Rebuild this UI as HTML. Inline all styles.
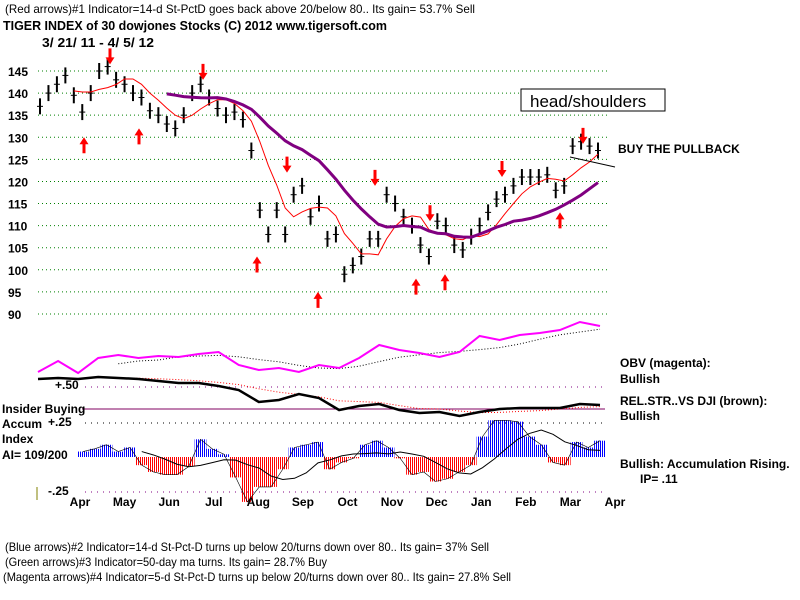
<!DOCTYPE html>
<html><head><meta charset="utf-8"><style>
body{margin:0;background:#fff;}
svg{display:block;font-family:"Liberation Sans",sans-serif;}
.t{font-size:12px;font-weight:bold;fill:#000;}
.n{font-size:12px;fill:#000;}
</style></head><body>
<svg id="c" width="800" height="600" viewBox="0 0 800 600">
<defs><pattern id="blueStr" width="2" height="4" patternUnits="userSpaceOnUse"><rect width="1" height="4" fill="#0000ff"/></pattern>
<pattern id="redStr" width="2" height="4" patternUnits="userSpaceOnUse"><rect width="1" height="4" fill="#ff0000"/></pattern></defs>
<text x="5" y="13" class="n" textLength="470" lengthAdjust="spacingAndGlyphs">(Red arrows)#1 Indicator=14-d St-PctD goes back above 20/below 80.. Its gain= 53.7% Sell</text>
<text x="3" y="30" class="t" style="font-size:13px" textLength="384" lengthAdjust="spacingAndGlyphs">TIGER INDEX of  30 dowjones Stocks  (C) 2012  www.tigersoft.com</text>
<text x="42" y="47" class="t" style="font-size:13px" textLength="112" lengthAdjust="spacingAndGlyphs">3/ 21/ 11 -  4/ 5/ 12</text>
<g id="grid"></g>
<g id="ylab"></g>
<g id="bars"></g>
<g id="mas"></g>
<g id="arrows"></g>
<line x1="570" y1="157" x2="615" y2="167" stroke="#000"/>
<rect x="521" y="89" width="144" height="22" fill="#fff" stroke="#000"/>
<text x="530" y="107" style="font-size:17px">head/shoulders</text>
<text x="618" y="153" class="t">BUY THE PULLBACK</text>
<g id="ind"></g>
<text x="55" y="389" class="t">+.50</text>
<text x="2" y="413" class="t">Insider Buying</text>
<text x="48" y="426" class="t">+.25</text>
<text x="2" y="428" class="t">Accum</text>
<text x="2" y="443" class="t">Index</text>
<text x="2" y="459" class="t">AI= 109/200</text>
<text x="48" y="495" class="t">-.25</text>
<line x1="37" y1="487" x2="37" y2="500" stroke="#808000"/>
<text x="620" y="367" class="t">OBV (magenta):</text>
<text x="620" y="383" class="t">Bullish</text>
<text x="620" y="405" class="t">REL.STR..VS DJI (brown):</text>
<text x="620" y="420" class="t">Bullish</text>
<text x="620" y="468" class="t">Bullish: Accumulation Rising.</text>
<text x="640" y="483" class="t">IP=  .11</text>
<g id="months"></g>
<text x="5" y="551" class="n" textLength="484" lengthAdjust="spacingAndGlyphs">(Blue arrows)#2 Indicator=14-d St-Pct-D turns up below 20/turns down over 80.. Its gain= 37% Sell</text>
<text x="5" y="566" class="n" textLength="322" lengthAdjust="spacingAndGlyphs">(Green arrows)#3 Indicator=50-day ma turns. Its gain= 28.7% Buy</text>
<text x="3" y="581" class="n" textLength="508" lengthAdjust="spacingAndGlyphs">(Magenta arrows)#4 Indicator=5-d St-Pct-D turns up below 20/turns down over 80.. Its gain= 27.8% Sell</text>
</svg>
<script>
const closes=[137,140,142,144,139.5,135.7,140,145,146,143,142,140,139,136,135,133,132,135,140,142,139,136.5,135,135.7,134,127,113.5,108,113.5,108,117,119,112,115,107,108,99,101,103,107,107,117,115,112,110,105.6,103,111,110,105.6,104.5,107.5,110,113,116,117,119,121,121,121,121.5,118,119,128,129,128,127];
const priceTicks=[145,140,135,130,125,120,115,110,105,100,95,90];
const obv=[28,39,27,42,45,42,44,43,46,48,35,30,32,28,35,32,42,55,50,47,43,48,64,60,65,67,70,78,74];
const relStr=[51,52,51,53,52,51,49,47,47,44,40,28,30,36,32,20,24,26,20,17,18,14,18,21,22,22,22,26,25];
const accum=[4,6,9,4,7,-6,-11,-13,-13,-7,13,6,2,-15,-33,-22,-22,-9,7,9,11,-9,-4,-1,9,12,7,-1,-13,-11,-18,-16,-11,-6,15,27,27,26,15,9,-4,-6,11,7,12];
const months=["Apr","May","Jun","Jul","Aug","Sep","Oct","Nov","Dec","Jan","Feb","Mar","Apr"];
const downArrows=[[110,146.5],[203,143],[287,122],[375,119],[430,111],[502,121],[583,128.5]];
const upArrows=[[84,130],[139,132],[257,103],[318,95],[416,98],[445,99],[560,113]];
const NS="http://www.w3.org/2000/svg";
function mk(p,t,a){const e=document.createElementNS(NS,t);for(const k in a)e.setAttribute(k,a[k]);document.getElementById(p).appendChild(e);return e;}
const yP=p=>71+(145-p)*4.418;
const xP=i=>40+i*(598-40)/(closes.length-1);
const xI=(i,n)=>38+i*(600-38)/(n-1);
const yO=v=>400-v, yR=v=>430-v, yA=v=>457-v*1.36;
const xAcc=i=>83+i*(600-83)/(accum.length-1);
const xM=i=>80+i*(615-80)/(months.length-1);
function ma(a,w){return a.map((v,i)=>{if(i<w-1)return null;let s=0;for(let j=i-w+1;j<=i;j++)s+=a[j];return s/w;});}
function pts(a,fx,fy,n){return a.map((v,i)=>v==null?null:fx(i,n).toFixed(1)+","+fy(v).toFixed(1)).filter(Boolean).join(" ");}
priceTicks.forEach(p=>{
 let l=mk('grid','line',{x1:38,x2:610,y1:yP(p),y2:yP(p),stroke:'#008000','stroke-dasharray':'1,3'});
 
 
 let t=mk('ylab','text',{x:8,y:yP(p)+5,class:'t'});t.textContent=p;
 
 
});
closes.forEach((c,i)=>{
 let b=mk('bars','line',{x1:xP(i),x2:xP(i),y1:yP(c)-8,y2:yP(c)+8,stroke:'#000','stroke-width':2});
 
 
 let t=mk('bars','line',{x1:xP(i)-3,x2:xP(i)+3,y1:yP(c),y2:yP(c),stroke:'#000'});
 
 
});
let m1=mk('mas','polyline',{points:pts(ma(closes,5),xP,yP),fill:'none',stroke:'#ff0000','stroke-width':1});


let m2=mk('mas','polyline',{points:pts(ma(closes,16),xP,yP),fill:'none',stroke:'#800080','stroke-width':3});


function arrow(x,p,down){const y=yP(p);const d=down?`M${x-1.5},${y-16}h3v9h3l-4.5,7l-4.5,-7h3z`:`M${x-1.5},${y+16}h3v-9h3l-4.5,-7l-4.5,7h3z`;
 let a=mk('arrows','path',{d:d,fill:'#ff0000'});return a;}
downArrows.forEach(([x,p])=>{let a=arrow(x,p,true);
 
 });
upArrows.forEach(([x,p])=>{let a=arrow(x,p,false);
 
 });
[[387,'#800080'],[423,'#000'],[492,'#800080']].forEach(([y,c])=>{let l=mk('ind','line',{x1:85,x2:605,y1:y,y2:y,stroke:c,'stroke-dasharray':'1,5'});
 
 });
let ib=mk('ind','line',{x1:82,x2:605,y1:409,y2:409,stroke:'#800060'});


accum.forEach((v,i)=>{const w=(600-83)/(accum.length-1);const y0=yA(0),y1=yA(v);
 let r=mk('ind','rect',{x:xAcc(i)-w/2,y:Math.min(y0,y1),width:w,height:Math.abs(y1-y0),fill:v>=0?'url(#blueStr)':'url(#redStr)'});
 
 });
let ao=mk('ind','polyline',{points:accum.map((v,i)=>xAcc(i)+","+yA(v)).join(" "),fill:'none',stroke:'#000','stroke-width':0.6});


let am=mk('ind','polyline',{points:ma(accum,6).map((v,i)=>v==null?null:xAcc(i)+","+yA(v)).filter(Boolean).join(" "),fill:'none',stroke:'#000'});


let om=mk('ind','polyline',{points:pts(ma(obv,5),xI,yO,obv.length),fill:'none',stroke:'#000','stroke-dasharray':'1,2'});


let ol=mk('ind','polyline',{points:pts(obv,xI,yO,obv.length),fill:'none',stroke:'#ff00ff','stroke-width':2});


let rm=mk('ind','polyline',{points:pts(ma(relStr,5),xI,yR,relStr.length),fill:'none',stroke:'#ff0000','stroke-dasharray':'1,2'});


let rl=mk('ind','polyline',{points:pts(relStr,xI,yR,relStr.length),fill:'none',stroke:'#000','stroke-width':2.5});


months.forEach((m,i)=>{let t=mk('months','text',{x:xM(i),y:506,class:'t','text-anchor':'middle'});t.textContent=m;
 
 });
</script>
</body></html>
